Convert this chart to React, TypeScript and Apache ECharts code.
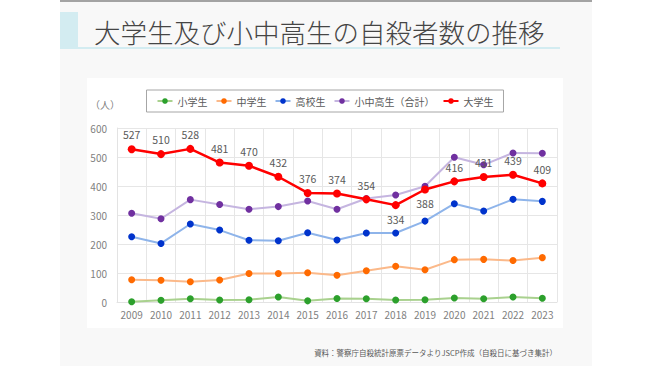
import React, { useEffect, useRef } from "react";
import * as echarts from "echarts";

const years = ["2009","2010","2011","2012","2013","2014","2015","2016","2017","2018","2019","2020","2021","2022","2023"];
const elementary = [1, 6, 11, 7, 8, 17, 4, 12, 11, 7, 8, 14, 11, 17, 13];
const juniorHigh = [77, 75, 70, 76, 98, 98, 101, 92, 108, 123, 111, 146, 147, 143, 153];
const highSchool = [225, 202, 269, 248, 213, 211, 239, 214, 238, 238, 279, 339, 314, 354, 347];
const totalK12 = [306, 287, 353, 336, 320, 329, 348, 320, 357, 369, 399, 499, 473, 514, 513];
const university = [527, 510, 528, 481, 470, 432, 376, 374, 354, 334, 388, 416, 431, 439, 409];
const belowLabelYears = ["2018", "2019"];
const yTicks = [0, 100, 200, 300, 400, 500, 600];

const FONT = '"Noto Sans CJK JP", "Noto Sans", sans-serif';

export default function App() {
  const ref = useRef<HTMLDivElement>(null);
  useEffect(() => {
    document.body.style.margin = "0";
    const chart = echarts.init(ref.current!, null, { renderer: "svg" });
    const mk = (name: string, data: number[], line: string, dot: string) => ({
      name,
      type: "line",
      data,
      symbol: "circle",
      symbolSize: 7,
      lineStyle: { color: line, width: 2 },
      itemStyle: { color: dot },
      z: 2,
    });
    chart.setOption({
      animation: false,
      backgroundColor: "#ffffff",
      textStyle: { fontFamily: FONT },
      graphic: [
        { type: "rect", shape: { x: 60, y: 0, width: 532, height: 366 }, style: { fill: "#f8f8f8" }, z: -10 },
        { type: "rect", shape: { x: 60, y: 0, width: 532, height: 2 }, style: { fill: "#a3a3a3" }, z: -9 },
        { type: "rect", shape: { x: 60, y: 12, width: 18, height: 36 }, style: { fill: "#d3ecf1" }, z: -9 },
        { type: "rect", shape: { x: 60, y: 47, width: 500, height: 2 }, style: { fill: "#d3ecf1" }, z: -9 },
        { type: "text", x: 94, y: 31, style: { text: "大学生及び小中高生の自殺者数の推移", fontSize: 26.5, fontFamily: FONT, fontWeight: 300, fill: "#454545", textVerticalAlign: "middle" }, z: -8 },
        { type: "rect", shape: { x: 87, y: 78, width: 476, height: 250 }, style: { fill: "#ffffff" }, z: -9 },
        { type: "text", x: 105, y: 104, style: { text: "（人）", fontSize: 10, fontFamily: FONT, fill: "#7f7f7f", textAlign: "center", textVerticalAlign: "middle" }, z: -8 },
        { type: "text", x: 557, y: 352, style: { text: "資料：警察庁自殺統計原票データよりJSCP作成（自殺日に基づき集計）", fontSize: 7.5, fontFamily: FONT, fill: "#595959", textAlign: "right", textVerticalAlign: "middle" }, z: -8 },
      ],
      legend: {
        top: 90,
        left: "center",
        borderColor: "#a6a6a6",
        borderWidth: 1,
        padding: [6, 10],
        itemWidth: 15,
        itemHeight: 7,
        itemGap: 8,
        textStyle: { color: "#595959", fontSize: 10, fontFamily: FONT },
        data: ["小学生", "中学生", "高校生", "小中高生（合計）", "大学生"],
      },
      grid: { left: 117, right: 93, top: 128, bottom: 64 },
      xAxis: {
        type: "category",
        data: years,
        boundaryGap: true,
        axisLine: { show: true, lineStyle: { color: "#e3e3e3" } },
        axisTick: { show: false },
        splitLine: { show: true, interval: 0, lineStyle: { color: "#e6e6e6" } },
        axisLabel: { color: "#7f7f7f", fontSize: 10, margin: 7, interval: 0, fontFamily: FONT },
      },
      yAxis: {
        type: "value",
        min: yTicks[0],
        max: yTicks[yTicks.length - 1],
        interval: 100,
        axisLine: { show: true, lineStyle: { color: "#e3e3e3" } },
        axisTick: { show: false },
        splitLine: { show: true, lineStyle: { color: "#e6e6e6" } },
        axisLabel: { color: "#7f7f7f", fontSize: 10, margin: 10, fontFamily: FONT },
      },
      series: [
        mk("小学生", elementary, "#a9d18e", "#2ca02c"),
        mk("中学生", juniorHigh, "#fbb98a", "#ff6a00"),
        mk("高校生", highSchool, "#8eb4ea", "#0033cc"),
        mk("小中高生（合計）", totalK12, "#c5b5e0", "#7030a0"),
        {
          name: "大学生",
          type: "line",
          data: university.map((v, i) => ({
            value: v,
            label: { position: belowLabelYears.includes(years[i]) ? "bottom" : "top" },
          })),
          symbol: "circle",
          symbolSize: 8,
          lineStyle: { color: "#ff0000", width: 2.5 },
          itemStyle: { color: "#ff0000" },
          label: { show: true, position: "top", color: "#595959", fontSize: 10.5, distance: 5, fontFamily: FONT },
          z: 5,
        },
      ],
    });
    return () => chart.dispose();
  }, []);
  return <div ref={ref} style={{ position: "absolute", left: 0, top: 0, width: 650, height: 366 }} />;
}
